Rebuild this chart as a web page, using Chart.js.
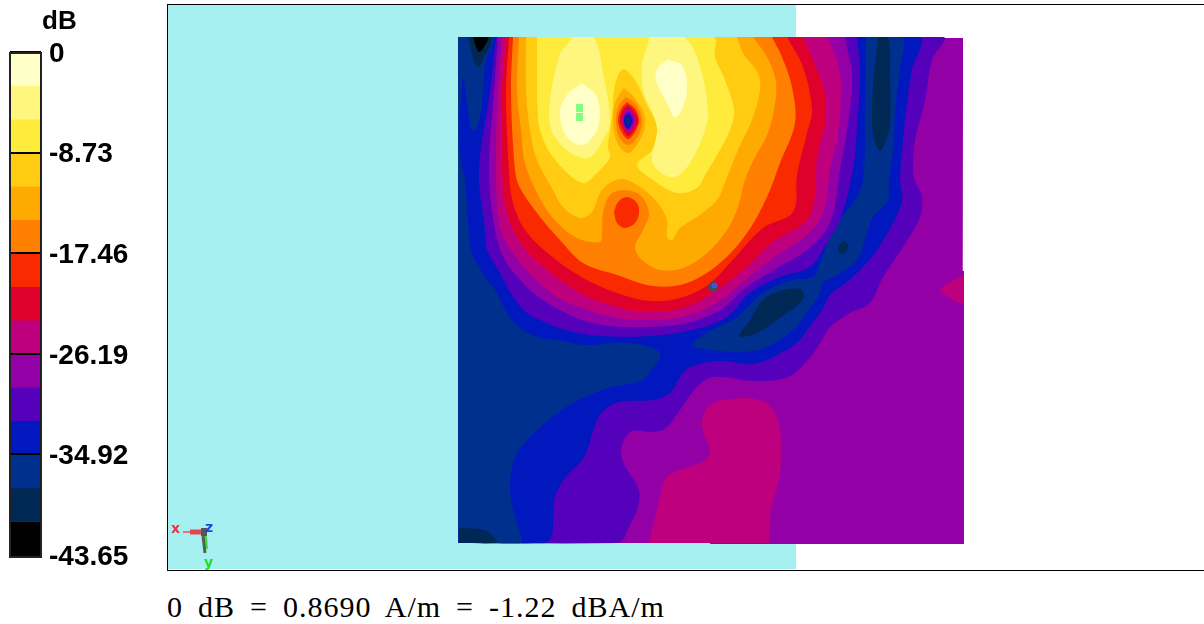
<!DOCTYPE html>
<html>
<head>
<meta charset="utf-8">
<title>Near field scan</title>
<script src="https://cdn.jsdelivr.net/npm/chart.js@4/dist/chart.umd.min.js"></script>
<style>
    html, body { margin: 0; padding: 0; background: #fff; }
    body { position: relative; width: 1204px; height: 624px; overflow: hidden; }
    canvas, .box, .txt { position: absolute; }
    #frame { left: 167px; top: 4px; width: 1037px; height: 565px; border: 1px solid #000; border-right: 0; }
    #sea { left: 168px; top: 5px; width: 628px; height: 564px; background: #a6f0f2; }
    #barEdge { left: 9px; top: 52px; width: 29px; height: 502px; border: 2px solid #222; }
    #dbTitle { left: 42px; top: 5px; font: bold 26px "Liberation Sans"; }
    #caption { left: 167px; top: 590px; font: 30px "Liberation Serif"; letter-spacing: 1px; word-spacing: 6.5px; white-space: pre; }
    .axisName { font: bold 14px "DejaVu Sans"; }
</style>
</head>
<body>
<div class="box" id="frame"></div>
<div class="box" id="sea"></div>
<canvas id="triad" width="60" height="60" style="left:168px;top:510px"></canvas>
<canvas id="map" width="506" height="507" style="left:458px;top:37px"></canvas>
<canvas id="bar" width="141" height="590" style="left:0;top:0"></canvas>
<div class="box" id="barEdge"></div>
<div class="txt" id="dbTitle">dB</div>
<div class="txt axisName" style="left:171px;top:520px;color:#f03040">x</div>
<div class="txt axisName" style="left:205px;top:519px;color:#2040f0">z</div>
<div class="txt axisName" style="left:204px;top:554px;color:#20e020">y</div>
<div class="txt" id="caption">0 dB = 0.8690 A/m = -1.22 dBA/m</div>

<script>
// colour scale, top band first
var bandColors = ['#ffffc8', '#fff680', '#ffeb3b', '#ffcc11', '#ffaa00', '#ff7f00', '#f92900', '#e0002c',
    '#be007e', '#9200a6', '#5500bb', '#0018be', '#00308e', '#002855', '#000000'];
var bandWidths = [-2.91, -2.91, -2.91, -2.91, -2.91, -2.91, -2.91, -2.91, -2.91, -2.91, -2.91, -2.91, -2.91, -2.91, -2.91];
var tickValues = [0, -8.73, -17.46, -26.19, -34.92, -43.65];
var tickLabels = ['0', '-8.73', '-17.46', '-26.19', '-34.92', '-43.65'];

// contours as [x, y] in scan units
var baseArea = [[458,37],[922,37],[922,38],[963,38],[963,271],[964,271],[964,544],[710,544],[710,543],[459,543],[459,483],[458,483]];
var lowViolet = [[458,37],[943,37],[932,60],[925,101],[915,140],[913,170],[915,181],[922,197],[920,217],[903,247],[883,277],[870,303],[850,313],[830,327],[822,340],[808,360],[788,377],[754,381],[714,377],[697,387],[680,410],[666,428],[653,432],[633,431],[624,440],[621,453],[626,468],[638,487],[639,503],[629,527],[618,543],[458,543]];
var lowBlue = [[458,37],[918,37],[912,70],[907,101],[902,151],[900,181],[902,200],[893,223],[877,250],[863,267],[847,282],[830,295],[822,310],[807,330],[800,340],[781,353],[754,364],[720,361],[690,367],[680,377],[670,393],[653,400],[619,402],[602,412],[594,428],[584,457],[565,478],[555,497],[546,543],[458,543]];
var navyLeft = [[458,37],[493,37],[486,60],[483,91],[481,110],[476,130],[473,131],[470,125],[467,103],[463,77],[461,100],[459,130],[461,160],[465,180],[468,220],[472,253],[485,277],[497,293],[507,313],[520,328],[540,338],[558,340],[585,345],[629,343],[660,353],[649,373],[643,380],[602,390],[562,410],[521,447],[511,473],[511,500],[519,530],[521,543],[458,543]];
var navyRight = [[866,37],[902,37],[900,70],[896,101],[893,151],[889,181],[888,200],[873,217],[867,233],[857,260],[837,275],[823,283],[820,293],[807,313],[793,330],[767,347],[743,352],[710,350],[692,345],[707,333],[737,317],[763,293],[793,280],[813,277],[820,263],[830,237],[840,220],[853,203],[863,181],[865,101]];
var darkTopLeft = [[468,37],[491,37],[485,57],[478,67],[473,60]];
var darkTopRight = [[878,37],[888,37],[890,80],[890,123],[885,143],[880,151],[875,143],[872,123],[873,83]];
var darkValley = [[738,336],[750,320],[763,300],[780,291],[800,289],[804,295],[800,303],[777,320],[757,333],[743,337],[738,336]];
var darkSpot = [[838,248],[843,241],[848,245],[845,253],[840,254],[838,248]];
var darkBottomLeft = [[459,528],[484,530],[494,537],[497,543],[459,543]];
var blackTop = [[473,37],[488,37],[484,47],[479,52],[476,47]];

var pinkBottom = [[649,543],[660,497],[666,478],[680,470],[700,463],[710,453],[704,433],[702,420],[710,405],[731,399],[754,399],[771,407],[780,430],[780,473],[771,510],[769,543]];
var pinkRight = [[939,290],[950,282],[964,277],[964,303],[950,298],[939,290]];

var peakViolet = [[496,37],[490,91],[479,170],[485,230],[487,250],[500,273],[513,297],[527,313],[540,320],[565,330],[600,336],[650,336],[693,330],[727,317],[750,293],[780,277],[810,267],[827,243],[840,220],[853,170],[857,130],[860,73],[857,37]];
var peakPurple = [[498,37],[494,91],[489,170],[495,230],[505,260],[523,283],[540,298],[560,310],[582,320],[610,326],[650,327],[687,323],[720,310],[747,287],[777,268],[807,250],[830,223],[840,170],[848,123],[852,77],[845,37]];
var peakMagenta = [[502,37],[498,91],[496,170],[500,227],[513,253],[533,277],[557,297],[583,308],[617,318],[650,320],[683,317],[713,305],[743,282],[773,258],[807,235],[823,213],[830,170],[838,133],[841,87],[837,60],[827,37]];
var peakCrimson = [[506,37],[502,91],[502,170],[507,213],[522,245],[547,270],[580,293],[610,305],[643,312],[683,308],[713,293],[747,267],[773,242],[807,220],[815,195],[817,157],[825,123],[825,93],[813,60],[803,37]];
var peakRed = [[509,37],[506,91],[509,170],[513,203],[525,230],[550,255],[583,278],[617,293],[650,301],[680,298],[708,285],[730,263],[763,228],[793,212],[797,175],[807,133],[812,110],[803,67],[787,37]];
var peakOrange = [[513,37],[511,91],[515,170],[520,188],[540,217],[560,240],[583,263],[617,275],[653,286],[687,283],[720,263],[747,233],[767,197],[780,163],[795,123],[792,87],[782,57],[772,37]];
var peakAmber = [[519,37],[517,91],[521,130],[525,163],[537,193],[553,218],[577,238],[600,242],[602,233],[603,213],[610,195],[623,190],[640,195],[649,213],[643,230],[635,247],[642,260],[660,270],[683,268],[707,253],[727,230],[738,207],[745,180],[755,157],[768,133],[776,97],[775,77],[767,57],[753,37]];
var peakGold = [[526,37],[526,91],[530,130],[537,160],[553,190],[563,207],[580,218],[592,212],[600,193],[610,183],[623,179],[640,187],[657,202],[667,220],[667,237],[672,240],[680,228],[697,217],[717,200],[727,177],[738,150],[752,120],[760,90],[758,73],[743,53],[737,37]];
var peakYellow = [[537,37],[713,37],[715,57],[725,80],[734,110],[730,130],[717,155],[705,175],[697,188],[677,193],[653,180],[637,165],[652,150],[657,133],[655,120],[647,105],[635,80],[623,69],[615,85],[612,117],[608,147],[610,157],[597,173],[582,183],[553,157],[540,130],[537,100]];
var paleLeft = [[573,37],[593,37],[603,73],[610,123],[603,140],[592,156],[582,158],[563,147],[550,125],[552,87],[560,53]];
var paleRight = [[650,37],[683,37],[698,60],[708,110],[705,130],[690,163],[675,177],[660,172],[652,160],[657,127],[643,90],[642,63]];
var creamLeft = [[582,83],[597,97],[598,127],[583,145],[567,137],[560,113],[567,95],[582,83]];
var creamRight = [[668,60],[682,65],[687,87],[683,107],[675,117],[667,103],[656,80],[658,67],[668,60]];
var redSpot = [[614,212],[618,202],[627,197],[637,203],[639,213],[635,223],[625,228],[617,223],[614,212]];

// the sharp dip next to the left lobe
var dipAmber = [[624,88],[634,97],[645,117],[641,138],[628,153],[617,142],[613,120],[616,100],[624,88]];
var dipOrange = [[626,97],[636,104],[642,120],[638,136],[628,145],[619,137],[616,120],[619,105],[626,97]];
var dipRed = [[627,102],[636,110],[639,121],[635,132],[628,139],[621,131],[618,120],[621,109],[627,102]];
var dipCrimson = [[628,105],[634,111],[638,121],[634,130],[628,136],[623,129],[620,120],[623,110],[628,105]];
var dipMagenta = [[628,107],[633,112],[636,121],[633,129],[628,133],[624,128],[622,120],[624,112],[628,107]];
var dipPurple = [[628,109],[632,113],[634,121],[632,127],[628,131],[625,127],[623,120],[625,113],[628,109]];
var dipViolet = [[628,111],[631,115],[633,121],[631,126],[628,129],[625,126],[624,120],[625,115],[628,111]];
var dipBlue = [[628,114],[631,117],[632,121],[631,125],[628,128],[625,125],[624,121],[625,117],[628,114]];
var dipNavy = [[628,117],[630,119],[630,122],[628,125],[626,122],[626,119],[628,117]];
var dipBlack = [[628,119],[629,121],[628,123],[627,121],[628,119]];

var greenTop = [[576,104],[583,104],[583,112],[576,112]];
var greenBottom = [[576,113],[583,113],[583,121],[576,121]];
var probeBody = [[713,287]];
var probeCap = [[714.5,285.5]];

// triad, same idea
var axisXThin = [[183,532],[191,532]];
var axisXThick = [[190,532],[203,532]];
var axisHub = [[201,532],[207,532]];
var axisYGrey = [[203,536],[205,553]];
var axisYGreen = [[205,536],[206,549]];

function area(points, colorIdx, tension) {
    return {
        data: points,
        showLine: true,
        fill: 'shape',
        backgroundColor: bandColors[colorIdx],
        borderColor: bandColors[colorIdx],
        borderWidth: 0,
        pointRadius: 0,
        tension: tension === undefined ? 0.35 : tension
    };
}

function spot(points, color, radius) {
    return {
        data: points,
        showLine: false,
        pointRadius: radius,
        pointBackgroundColor: color,
        pointBorderWidth: 0
    };
}

function stroke(points, color, width) {
    return {
        data: points,
        showLine: true,
        borderColor: color,
        borderWidth: width,
        pointRadius: 0,
        tension: 0
    };
}

function plainScale(min, max, reverse) {
    return { type: 'linear', display: false, min: min, max: max, reverse: !!reverse };
}

var flatOptions = function(xMin, xMax, yMin, yMax) {
    return {
        responsive: false,
        animation: false,
        events: [],
        layout: { padding: 0, autoPadding: false },
        plugins: { legend: { display: false }, tooltip: { enabled: false } },
        scales: { x: plainScale(xMin, xMax), y: plainScale(yMin, yMax, true) }
    };
};

// painted bottom to top
var layers = [
    area(baseArea, 9, 0.001),
    area(pinkBottom, 8),
    area(pinkRight, 8),
    area(lowViolet, 10),
    area(lowBlue, 11),
    area(navyLeft, 12),
    area(navyRight, 12),
    area(darkTopLeft, 13),
    area(darkTopRight, 13),
    area(darkValley, 13),
    area(darkSpot, 13),
    area(darkBottomLeft, 13),
    area(blackTop, 14),
    area(peakViolet, 10),
    area(peakPurple, 9),
    area(peakMagenta, 8),
    area(peakCrimson, 7),
    area(peakRed, 6),
    area(peakOrange, 5),
    area(peakAmber, 4),
    area(peakGold, 3),
    area(peakYellow, 2),
    area(paleLeft, 1),
    area(paleRight, 1),
    area(creamLeft, 0),
    area(creamRight, 0),
    area(redSpot, 6),
    area(dipAmber, 4),
    area(dipOrange, 5),
    area(dipRed, 6),
    area(dipCrimson, 7),
    area(dipMagenta, 8),
    area(dipPurple, 9),
    area(dipViolet, 10),
    area(dipBlue, 11),
    area(dipNavy, 12),
    area(dipBlack, 13),
    spot(probeBody, '#4a4a55', 5),
    spot(probeCap, '#3b58d8', 3)
];
var greens = [greenTop, greenBottom];
for (var g = 0; g < greens.length; g++) {
    var mark = area(greens[g], 0, 0.001);
    mark.backgroundColor = '#80ff80';
    layers.push(mark);
}

new Chart(document.getElementById('map'), {
    type: 'scatter',
    data: { datasets: layers.reverse() }, // first dataset is drawn last
    options: flatOptions(458, 964, 37, 544)
});

new Chart(document.getElementById('triad'), {
    type: 'scatter',
    data: { datasets: [
        stroke(axisHub, '#555560', 8),
        stroke(axisYGrey, '#556055', 3),
        stroke(axisYGreen, '#40d848', 4),
        stroke(axisXThick, '#e04850', 5),
        stroke(axisXThin, '#e87078', 2)
    ] },
    options: flatOptions(168, 228, 510, 570)
});

// colour bar: one stacked bar per band
var barSets = [];
for (var i = 0; i < bandWidths.length; i++) {
    barSets.push({
        data: [bandWidths[i]],
        backgroundColor: bandColors[i],
        borderWidth: 0,
        barPercentage: 1,
        categoryPercentage: 1
    });
}

new Chart(document.getElementById('bar'), {
    type: 'bar',
    data: { labels: ['dB'], datasets: barSets },
    options: {
        responsive: false,
        animation: false,
        events: [],
        layout: { padding: { left: 10, top: 52, bottom: 35, right: 0 } },
        plugins: { legend: { display: false }, tooltip: { enabled: false } },
        scales: {
            x: { stacked: true, display: false },
            y: {
                stacked: true,
                position: 'right',
                min: -43.65,
                max: 0,
                afterFit: function(scale) { scale.width = 100; },
                afterBuildTicks: function(scale) {
                    scale.ticks = tickValues.map(function(v) { return { value: v }; });
                },
                grid: { z: 1, color: '#000', lineWidth: 2, drawTicks: false },
                border: { display: false },
                ticks: {
                    padding: 8,
                    color: '#000',
                    autoSkip: false,
                    maxRotation: 0,
                    labelOffset: 2,
                    font: { family: 'Liberation Sans', size: 28, weight: 'bold' },
                    callback: function(value) {
                        return tickLabels[tickValues.indexOf(value)];
                    }
                }
            }
        }
    }
});
</script>
</body>
</html>
